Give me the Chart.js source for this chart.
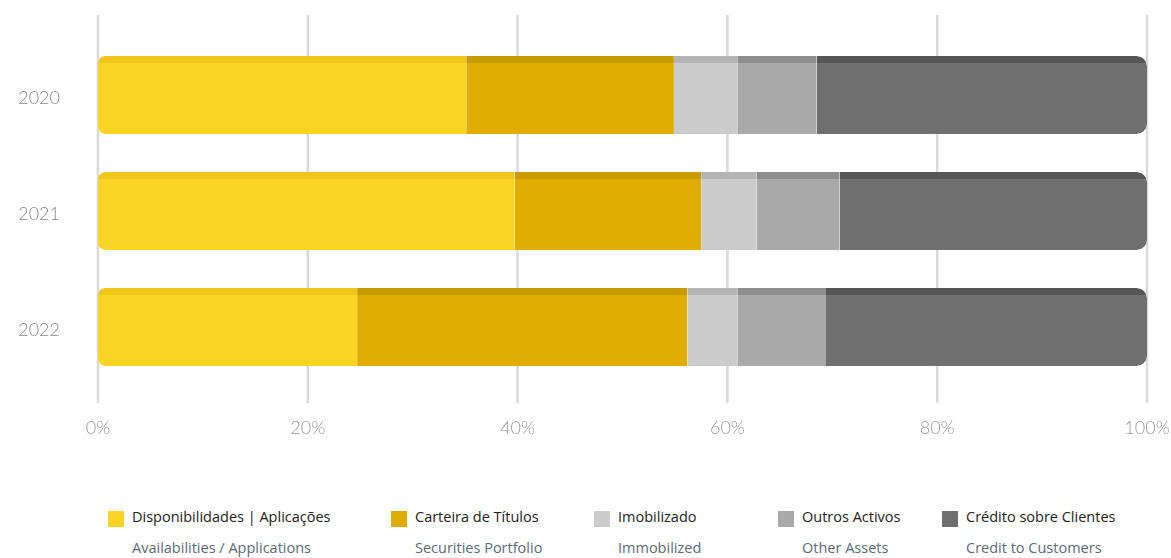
<!DOCTYPE html>
<html>
<head>
<meta charset="utf-8">
<script src="https://cdn.jsdelivr.net/npm/chart.js@4.4.1/dist/chart.umd.min.js"></script>
<style>
  body { margin: 0; background: #fff; }
  #wrap { position: relative; width: 1171px; height: 558px; overflow: hidden; }
  #chart-box { position: absolute; left: 0; top: 0; width: 1171px; height: 450px; }
  .leg { position: absolute; top: 507px; font-family: "Open Sans", sans-serif; font-size: 14.5px; }
  .leg .sw { position: absolute; left: 0; top: 4px; width: 16px; height: 16px; }
  .leg .pt { position: absolute; left: 24px; top: 0; color: #222; white-space: nowrap; line-height: 20px; }
  .leg .en { position: absolute; left: 24px; top: 31px; color: #5d6b7a; white-space: nowrap; line-height: 20px; }
</style>
</head>
<body>
<div id="wrap">
  <div id="chart-box"><canvas id="chart-assets"></canvas></div>
  <div id="legend"></div>
</div>
<script>
// Estrutura do activo por ano (% do total)
const anos = ["2020", "2021", "2022"];
const categorias = [
  "Disponibilidades | Aplicações",
  "Carteira de Títulos",
  "Imobilizado",
  "Outros Activos",
  "Crédito sobre Clientes"
];
const categoriasEn = [
  "Availabilities / Applications",
  "Securities Portfolio",
  "Immobilized",
  "Other Assets",
  "Credit to Customers"
];
const disponibilidades = [35.1, 39.7, 24.7];
const carteira = [19.8, 17.8, 31.5];
const imobilizado = [6.1, 5.3, 4.8];
const outros = [7.5, 7.9, 8.4];
const credito = [31.5, 29.3, 30.6];
const ticksX = [0, 20, 40, 60, 80, 100];

const cores = ["#fcd424", "#dfad00", "#cbcbcb", "#a9a9a9", "#6f6f6f"];
const coresTopo = ["#f0c51c", "#c99b00", "#b4b4b4", "#8e8e8e", "#565656"];
const legendaX = [108, 391, 594, 778, 942];

const series = [disponibilidades, carteira, imobilizado, outros, credito];

const datasets = series.map((valores, i) => ({
  label: categorias[i],
  data: valores,
  backgroundColor: cores[i],
  borderColor: coresTopo[i],
  borderWidth: { top: 7, right: 0, bottom: 0, left: 0 },
  borderSkipped: false,
  borderRadius: i === 0 ? { topLeft: 7, bottomLeft: 7, topRight: 0, bottomRight: 0 }
    : i === series.length - 1 ? { topLeft: 0, bottomLeft: 0, topRight: 10, bottomRight: 10 }
    : 0,
  barThickness: 78,
  inflateAmount: 0
}));

// linhas verticais da grelha, um pouco mais compridas que a área do gráfico
const grelhaX = {
  id: "grelhaX",
  beforeDatasetsDraw(chart) {
    const { ctx, chartArea, scales } = chart;
    ctx.save();
    ctx.strokeStyle = "#dadada";
    ctx.lineWidth = 2.5;
    ticksX.forEach((v) => {
      const x = scales.x.getPixelForValue(v);
      ctx.beginPath();
      ctx.moveTo(x, chartArea.top - 22);
      ctx.lineTo(x, chartArea.bottom + 18);
      ctx.stroke();
    });
    ctx.restore();
  }
};

const fonteEixo = { family: "Lato, 'Open Sans', sans-serif", size: 18, weight: 300 };

new Chart(document.getElementById("chart-assets").getContext("2d"), {
  type: "bar",
  data: { labels: anos, datasets },
  options: {
    indexAxis: "y",
    responsive: true,
    maintainAspectRatio: false,
    animation: false,
    layout: { padding: { top: 37, right: 24, left: 0, bottom: 0 } },
    plugins: {
      legend: { display: false },
      tooltip: { enabled: false }
    },
    scales: {
      x: {
        stacked: true,
        min: 0,
        max: 100,
        afterBuildTicks: (scale) => { scale.ticks = ticksX.map((v) => ({ value: v })); },
        afterFit: (scale) => {
          scale.height = 65;
          scale.paddingLeft = 0;
          scale.paddingRight = 0;
        },
        grid: { display: false, drawTicks: false },
        border: { display: false },
        ticks: {
          color: "#9a9a9a",
          font: fonteEixo,
          padding: 32,
          callback: (v) => v + "%"
        }
      },
      y: {
        stacked: true,
        afterFit: (scale) => {
          scale.width = 98;
          scale.paddingTop = 0;
          scale.paddingBottom = 0;
        },
        grid: { display: false, drawTicks: false },
        border: { display: false },
        ticks: {
          color: "#8a8a8a",
          font: fonteEixo,
          padding: 38,
          labelOffset: 3
        }
      }
    }
  },
  plugins: [grelhaX]
});

// legenda com o texto em português e a tradução por baixo
document.getElementById("legend").innerHTML = categorias
  .map((c, i) => `
    <div class="leg" style="left:${legendaX[i]}px">
      <span class="sw" style="background:${cores[i]}"></span>
      <span class="pt">${c}</span>
      <span class="en">${categoriasEn[i]}</span>
    </div>`)
  .join("");
</script>
</body>
</html>
